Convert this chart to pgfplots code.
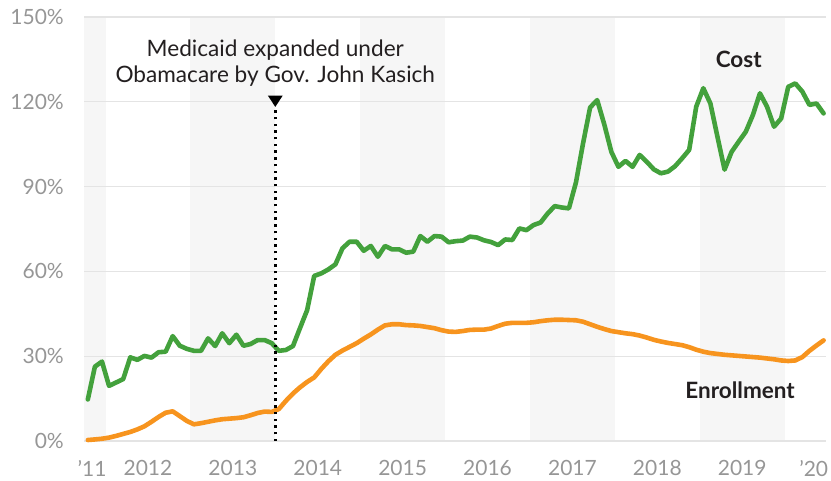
\documentclass[border=0pt]{standalone}
\usepackage{fontspec}
\setmainfont{Lato}
\usepackage{pgfplots}
\pgfplotsset{compat=1.18}

\definecolor{costgreen}{RGB}{67,161,60}
\definecolor{enrollorange}{RGB}{247,148,30}
\definecolor{tickgray}{RGB}{150,150,150}
\definecolor{gridgray}{RGB}{228,228,228}
\definecolor{bandgray}{RGB}{246,246,246}
\definecolor{inkdark}{RGB}{35,31,32}

% months since Jan 2012 (mid-month), percent growth
\pgfplotstableread{
x y
-2.5 14.7
-1.5 26.3
-0.5 28.1
0.5 19.5
1.5 20.7
2.5 21.9
3.5 29.6
4.5 28.7
5.5 30.1
6.5 29.5
7.5 31.4
8.5 31.6
9.5 37.1
10.5 33.7
11.5 32.6
12.5 31.9
13.5 31.9
14.5 36.3
15.5 33.6
16.5 38.1
17.5 34.6
18.5 37.6
19.5 33.7
20.5 34.3
21.5 35.7
22.5 35.7
23.5 34.6
24.5 31.9
25.5 32.2
26.5 33.6
27.5 40.0
28.5 46.3
29.5 58.4
30.5 59.3
31.5 60.7
32.5 62.5
33.5 68.2
34.5 70.5
35.5 70.5
36.5 67.3
37.5 69.0
38.5 65.2
39.5 69.0
40.5 67.8
41.5 67.8
42.5 66.6
43.5 67.0
44.5 72.5
45.5 70.5
46.5 72.5
47.5 72.3
48.5 70.3
49.5 70.7
50.5 70.9
51.5 72.3
52.5 72.0
53.5 71.0
54.5 70.4
55.5 69.3
56.5 71.3
57.5 71.1
58.5 75.2
59.5 74.6
60.5 76.4
61.5 77.3
62.5 80.5
63.5 83.1
64.5 82.6
65.5 82.3
66.5 91.5
67.5 105.3
68.5 118.0
69.5 120.6
70.5 112.0
71.5 102.3
72.5 97.0
73.5 99.1
74.5 97.0
75.5 101.2
76.5 98.8
77.5 96.1
78.5 94.7
79.5 95.3
80.5 97.2
81.5 100.0
82.5 103.0
83.5 118.3
84.5 124.8
85.5 119.4
86.5 107.6
87.5 96.0
88.5 102.3
89.5 105.9
90.5 109.4
91.5 115.3
92.5 123.0
93.5 118.3
94.5 111.2
95.5 114.1
96.5 125.3
97.5 126.5
98.5 123.6
99.5 118.9
100.5 119.4
101.5 115.9
}\costdata

\pgfplotstableread{
x y
-2.5 0.35
-1.5 0.55
-0.5 0.8
0.5 1.2
1.5 1.8
2.5 2.5
3.5 3.2
4.5 4.1
5.5 5.2
6.5 6.8
7.5 8.5
8.5 10.0
9.5 10.5
10.5 8.8
11.5 7.1
12.5 5.9
13.5 6.3
14.5 6.8
15.5 7.3
16.5 7.7
17.5 7.9
18.5 8.1
19.5 8.4
20.5 9.1
21.5 9.9
22.5 10.4
23.5 10.3
24.5 11.3
25.5 14.2
26.5 16.8
27.5 19.0
28.5 20.9
29.5 22.5
30.5 25.5
31.5 28.2
32.5 30.5
33.5 32.0
34.5 33.3
35.5 34.6
36.5 36.2
37.5 37.7
38.5 39.4
39.5 40.9
40.5 41.3
41.5 41.3
42.5 41.0
43.5 40.9
44.5 40.7
45.5 40.3
46.5 39.9
47.5 39.2
48.5 38.7
49.5 38.6
50.5 38.9
51.5 39.3
52.5 39.4
53.5 39.4
54.5 39.8
55.5 40.7
56.5 41.5
57.5 41.8
58.5 41.8
59.5 41.8
60.5 42.0
61.5 42.4
62.5 42.7
63.5 42.9
64.5 42.9
65.5 42.8
66.5 42.7
67.5 42.2
68.5 41.3
69.5 40.4
70.5 39.6
71.5 38.9
72.5 38.5
73.5 38.1
74.5 37.8
75.5 37.3
76.5 36.6
77.5 35.8
78.5 35.2
79.5 34.7
80.5 34.3
81.5 33.9
82.5 33.2
83.5 32.3
84.5 31.6
85.5 31.1
86.5 30.8
87.5 30.5
88.5 30.3
89.5 30.1
90.5 29.9
91.5 29.7
92.5 29.5
93.5 29.2
94.5 28.9
95.5 28.5
96.5 28.3
97.5 28.5
98.5 29.7
99.5 31.9
100.5 33.8
101.5 35.6
}\enrolldata

\begin{document}
\begin{tikzpicture}
\begin{axis}[
    set layers,
    scale only axis,
    width=742pt, height=424pt,
    xmin=-3.04, xmax=101.84,
    ymin=0, ymax=150,
    axis line style={draw=none},
    major tick length=0pt,
    ytick={0,30,60,90,120,150},
    yticklabels={0\%,30\%,60\%,90\%,120\%,150\%},
    xtick={-1.9,6,18,30,42,54,66,78,90,100.1},
    xticklabels={’11,2012,2013,2014,2015,2016,2017,2018,2019,’20},
    ymajorgrids,
    grid style={draw=gridgray, line width=1.3pt},
    tick label style={font=\fontsize{21}{21}\selectfont, text=tickgray},
    yticklabel style={anchor=east, inner sep=0pt, xshift=-20pt},
    xticklabel style={anchor=north, inner sep=0pt, yshift=-19pt},
    clip=false,
]
\begin{pgfonlayer}{axis background}
  \fill[bandgray] (axis cs:-3.04,0) rectangle (axis cs:0,150);
  \fill[bandgray] (axis cs:12,0) rectangle (axis cs:24,150);
  \fill[bandgray] (axis cs:36,0) rectangle (axis cs:48,150);
  \fill[bandgray] (axis cs:60,0) rectangle (axis cs:72,150);
  \fill[bandgray] (axis cs:84,0) rectangle (axis cs:96,150);
\end{pgfonlayer}

\coordinate (sw) at (rel axis cs:0,0);
\coordinate (ne) at (rel axis cs:1,1);

\addplot[enrollorange, line width=4.6pt, line join=round, line cap=round] table {\enrolldata};
\addplot[costgreen, line width=4.6pt, line join=round, line cap=round] table {\costdata};

% expansion marker
\draw[black, line width=2.4pt, dash pattern=on 2.4pt off 4.3pt] (axis cs:24,0) -- (axis cs:24,118.5);
\fill[black] (axis cs:24,118.2) -- (axis cs:22.95,122.2) -- (axis cs:25.05,122.2) -- cycle;
\node[anchor=base, text=inkdark, font=\fontsize{22.6}{22.6}\selectfont, inner sep=0pt]
  at (axis cs:24,136.0) {Medicaid expanded under};
\node[anchor=base, text=inkdark, font=\fontsize{22.6}{22.6}\selectfont, inner sep=0pt]
  at (axis cs:24,126.8) {Obamacare by Gov. John Kasich};

\node[anchor=base, text=inkdark, font=\fontsize{22.5}{22.5}\selectfont\bfseries, inner sep=0pt]
  at (axis cs:89.5,132.3) {Cost};
\node[anchor=base, text=inkdark, font=\fontsize{22.5}{22.5}\selectfont\bfseries, inner sep=0pt]
  at (axis cs:89.7,15.2) {Enrollment};
\end{axis}
\pgfresetboundingbox
\path ([shift={(-84pt,-39pt)}]sw) rectangle ([shift={(5pt,17pt)}]ne);
\end{tikzpicture}
\end{document}
